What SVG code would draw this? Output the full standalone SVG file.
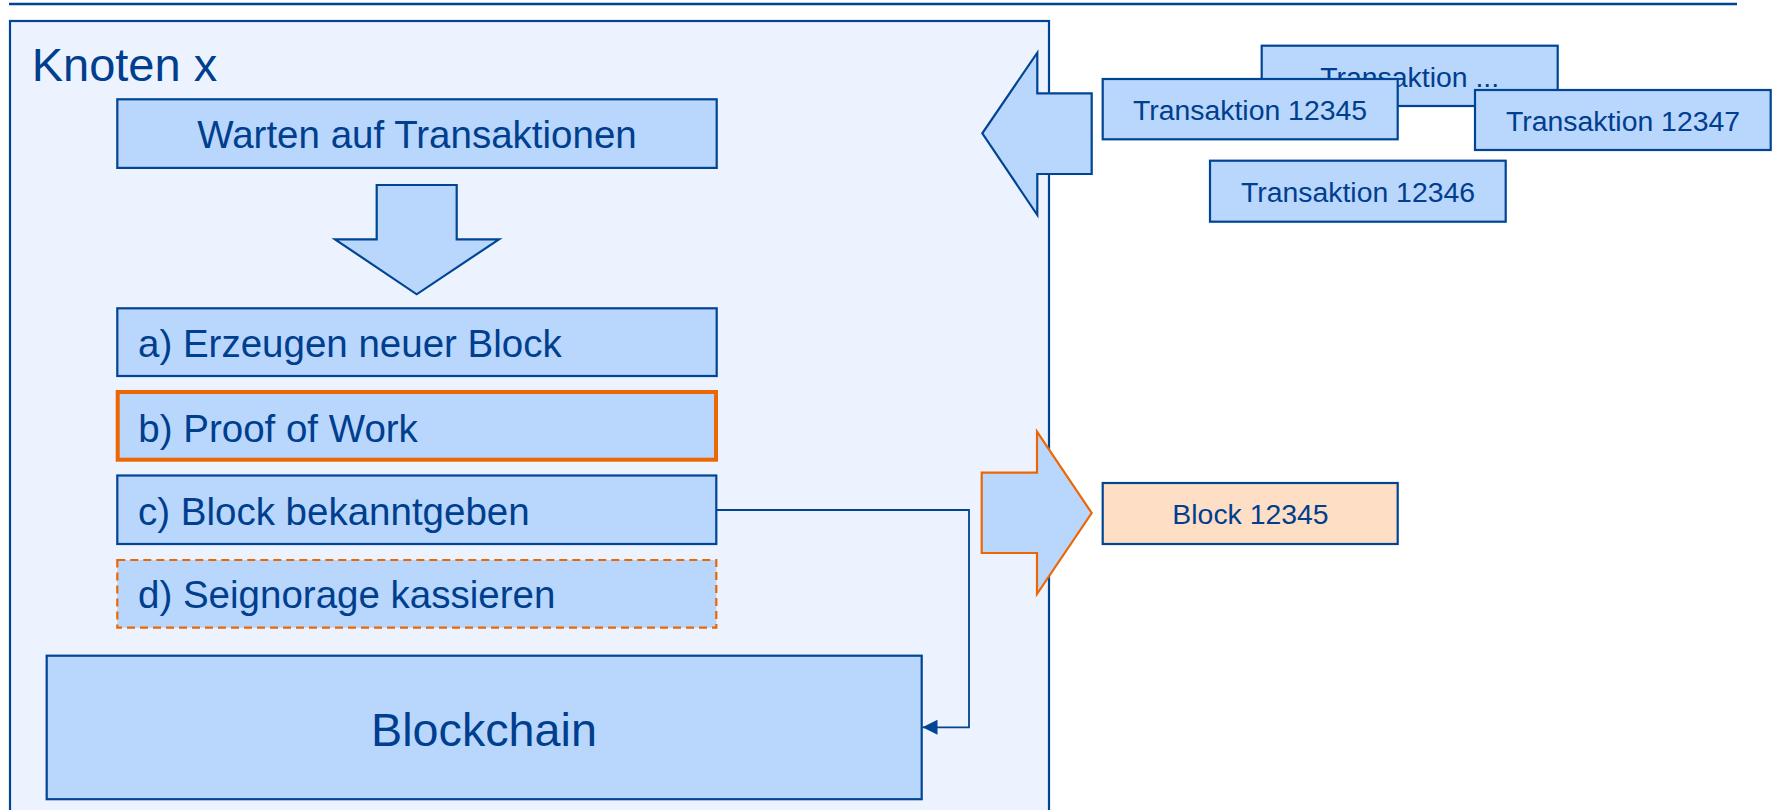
<svg xmlns="http://www.w3.org/2000/svg" width="1778" height="810" viewBox="0 0 1778 810">
  <style>
    .box { fill: #B9D6FD; stroke: #004494; stroke-width: 2.2; }
    .t { font-family: "Liberation Sans", Arial, sans-serif; fill: #003E8E; }
    .step { font-size: 38.5px; }
    .tr { font-size: 28.4px; text-anchor: middle; }
    .conn { fill: none; stroke: #004494; stroke-width: 1.8; }
  </style>
  <defs>
    <marker id="arr" markerWidth="16" markerHeight="16" refX="15" refY="7.5" orient="auto" markerUnits="userSpaceOnUse">
      <path d="M0,0 L15,7.5 L0,15 z" fill="#004494"/>
    </marker>
  </defs>
  <rect width="1778" height="810" fill="#FFFFFF"/>
  <line x1="9" y1="4" x2="1737" y2="4" stroke="#004494" stroke-width="2.5"/>

  <g id="knoten-x">
    <rect x="10" y="21" width="1039" height="800" fill="#ECF3FE" stroke="#004494" stroke-width="2.2"/>
    <text class="t" x="31.7" y="81" font-size="47">Knoten x</text>
  </g>

  <g id="warten">
    <rect class="box" x="117.3" y="99.3" width="599.4" height="68.6"/>
    <text class="t step" x="417" y="147.7" text-anchor="middle">Warten auf Transaktionen</text>
  </g>

  <g id="pfeil-runter">
    <polygon class="box" points="376.7,185 456.7,185 456.7,239.3 499,239.3 416.7,294.3 335,239.3 376.7,239.3"/>
  </g>

  <g id="schritt-a">
    <rect class="box" x="117.3" y="308.3" width="599.4" height="67.7"/>
    <text class="t step" x="138" y="356.7">a) Erzeugen neuer Block</text>
  </g>

  <g id="schritt-b">
    <rect x="117.7" y="392" width="598.3" height="67.7" fill="#B9D6FD" stroke="#EC6602" stroke-width="4"/>
    <text class="t step" x="138.3" y="441.7">b) Proof of Work</text>
  </g>

  <g id="schritt-c">
    <rect class="box" x="117.3" y="475.5" width="599" height="68.5"/>
    <text class="t step" x="138" y="525">c) Block bekanntgeben</text>
  </g>

  <g id="schritt-d">
    <rect x="117.3" y="560" width="599" height="67.7" fill="#B9D6FD" stroke="#EC6602" stroke-width="2.2" stroke-dasharray="8,5"/>
    <text class="t step" x="138" y="608.3">d) Seignorage kassieren</text>
  </g>

  <g id="blockchain">
    <rect class="box" x="46.7" y="655.7" width="875" height="143.5"/>
    <text class="t" x="484" y="745.7" font-size="46.7" text-anchor="middle">Blockchain</text>
  </g>

  <g id="pfeil-links">
    <polygon class="box" points="1091.7,93.3 1037.3,93.3 1037.3,52.7 982.3,133.3 1037.3,215 1037.3,174 1091.7,174"/>
  </g>

  <g id="pfeil-rechts">
    <polygon points="981.7,472.7 1037,472.7 1037,431.7 1091.7,513 1037,594 1037,553 981.7,553" fill="#B9D6FD" stroke="#EC6602" stroke-width="2.2"/>
  </g>

  <g id="transaktion-dots">
    <rect class="box" x="1261.7" y="45.7" width="296" height="60.3"/>
    <text class="t tr" x="1409.7" y="86.7">Transaktion ...</text>
  </g>

  <g id="transaktion-12345">
    <rect class="box" x="1102.7" y="79" width="295" height="60.3"/>
    <text class="t tr" x="1250" y="120">Transaktion 12345</text>
  </g>

  <g id="transaktion-12347">
    <rect class="box" x="1475" y="90" width="295.7" height="60"/>
    <text class="t tr" x="1623" y="130.7">Transaktion 12347</text>
  </g>

  <g id="transaktion-12346">
    <rect class="box" x="1210" y="160.7" width="295.7" height="61"/>
    <text class="t tr" x="1358" y="201.7">Transaktion 12346</text>
  </g>

  <g id="block-12345">
    <rect x="1102.7" y="483" width="295" height="61" fill="#FEDFC6" stroke="#004494" stroke-width="2.2"/>
    <text class="t tr" x="1250.5" y="524">Block 12345</text>
  </g>

  <g id="connectors">
    <path class="conn" d="M716.3,510 H969 V727.3 H922.5" marker-end="url(#arr)"/>
  </g>
</svg>
